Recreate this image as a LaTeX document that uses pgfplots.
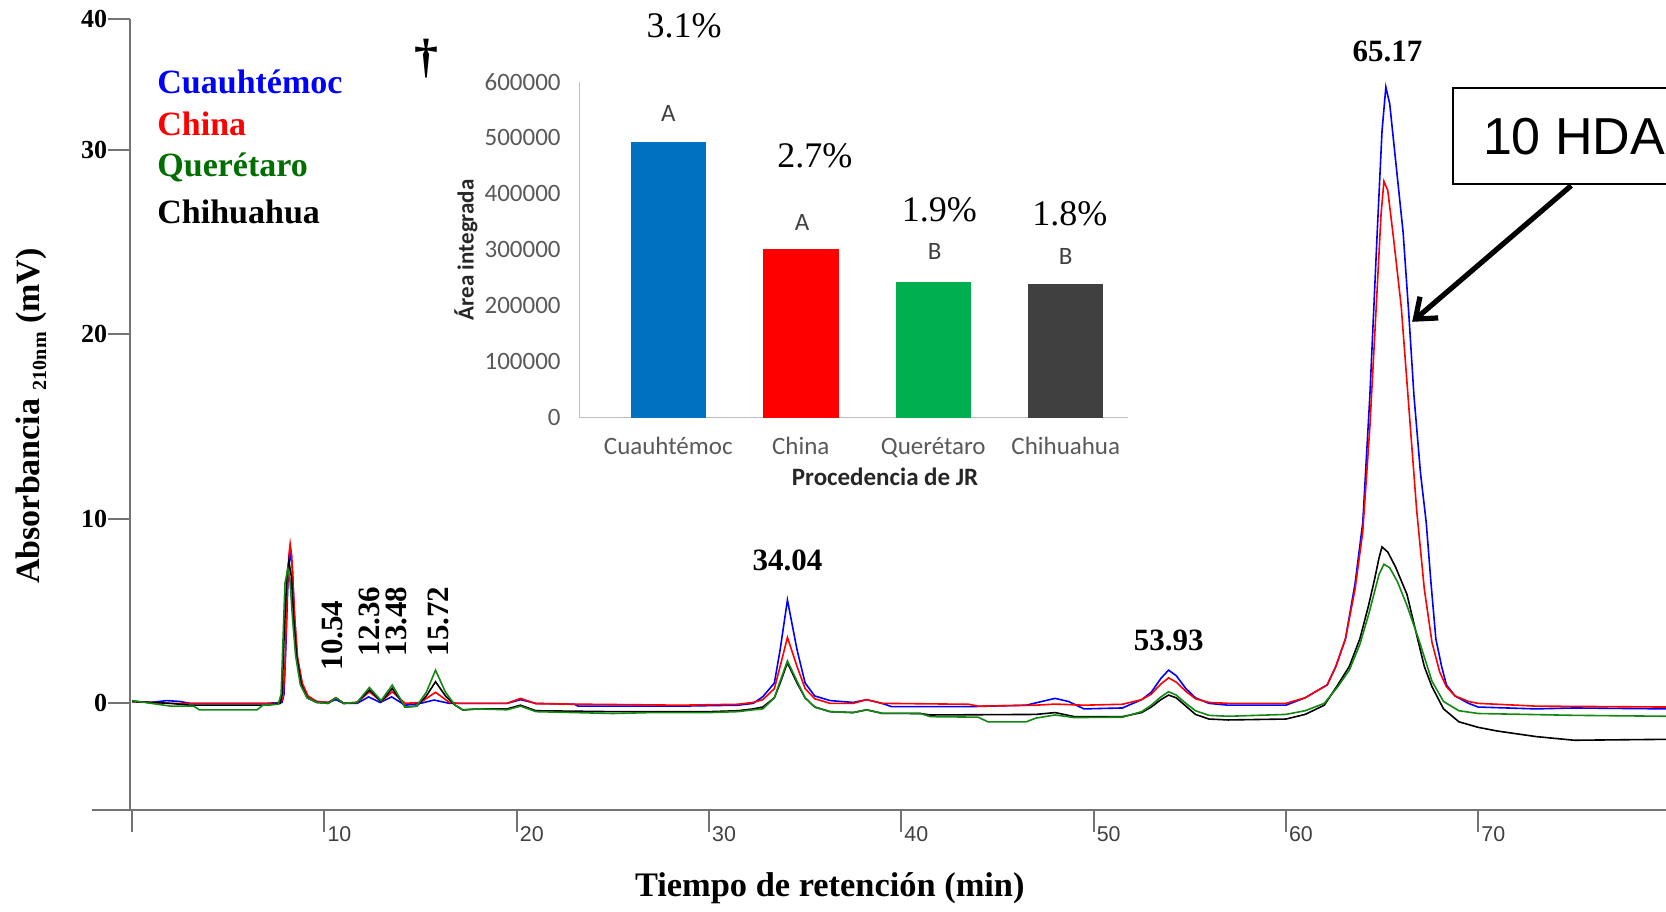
\documentclass[border=0pt]{standalone}
\usepackage{pgfplots}
\pgfplotsset{compat=1.18}
\usepackage{fontspec}
\setmainfont{Liberation Serif}
\newfontfamily\carlito{Carlito}
\newfontfamily\arialf{Liberation Sans}
\usetikzlibrary{arrows.meta}
\definecolor{cblue}{RGB}{0,0,255}
\definecolor{cred}{RGB}{255,0,0}
\definecolor{cgreen}{RGB}{20,135,20}
\definecolor{lgreen}{RGB}{0,110,0}
\definecolor{bblue}{HTML}{0070C0}
\definecolor{bred}{HTML}{FF0000}
\definecolor{bgreen}{HTML}{00B050}
\definecolor{bgray}{HTML}{404040}
\definecolor{tgray}{HTML}{595959}
\begin{document}
\begin{tikzpicture}
\useasboundingbox (0,0) rectangle (833pt,455.5pt);
\begin{axis}[
  at={(64.8pt,50.5pt)}, anchor=south west, scale only axis,
  width=768.2pt, height=395.5pt,
  xmin=-0.13, xmax=79.77, ymin=-5.78, ymax=37.09,
  axis lines*=left,
  axis line style={draw=black!55, line width=1pt},
  tick style={draw=black!55, line width=1pt},
  tick align=outside, major tick length=11pt,
  xtick={0,10,...,70}, xticklabels={,10,20,30,40,50,60,70},
  ytick={0,10,20,30,37.09}, yticklabels={0,10,20,30,40},
  xticklabel style={font=\arialf\fontsize{10.7}{12}\selectfont, text=black!75, anchor=north west, inner sep=0pt, xshift=1.4pt, yshift=3pt},
  yticklabel style={font=\fontsize{13}{15}\selectfont\bfseries, anchor=east, inner sep=0pt},
  clip=false,
]
\draw[black!55, line width=1pt] (rel axis cs:0,0) -- ([xshift=-19pt]rel axis cs:0,0);
% Cuauhtemoc (blue)
\addplot[cblue, line width=0.8pt] table {
0 0.1
1 0.05
1.8 0.15
2.5 0.1
3 0.0
7.0 0.0
7.8 0.05
7.9 0.5
8.0 3.2
8.1 6.5
8.22 8.2
8.32 7.6
8.45 4.6
8.6 2.4
8.85 1.0
9.15 0.35
9.6 0.1
10.2 0.05
10.6 0.2
11.0 0.0
11.7 0.0
12.3 0.35
12.9 0.05
13.5 0.35
14.2 -0.1
15.0 0.0
15.7 0.18
16.5 0.0
19.5 0.0
20.2 0.2
21.0 0.0
23.0 -0.05
23.2 -0.15
28.5 -0.15
31.5 -0.1
32.3 0.0
32.8 0.36
33.4 1.1
33.7 2.9
34.08 5.6
34.58 2.9
35.0 1.1
35.5 0.4
36.3 0.15
37.5 0.05
38.2 0.2
39 0.0
39.5 -0.18
43.5 -0.18
46.5 -0.1
47.3 0.1
48.0 0.27
48.7 0.1
49.5 -0.3
51.5 -0.25
52.5 0.2
53.0 0.6
53.5 1.35
53.9 1.8
54.3 1.5
54.8 0.8
55.3 0.3
56 0.0
57 -0.1
60 -0.1
61 0.3
62.15 1.0
62.6 2.0
63.1 3.5
63.6 6.5
64.0 9.8
64.37 16.7
64.75 25.5
65.0 31.0
65.2 33.4
65.4 32.5
65.7 29.5
66.1 25.5
66.4 21
66.66 16.7
67.0 12.5
67.3 9.8
67.55 6.5
67.8 3.5
68.1 2.0
68.35 1.0
68.8 0.4
69.5 0.0
70 -0.2
73 -0.3
75 -0.25
79.77 -0.3
};
% China (red)
\addplot[cred, line width=0.8pt] table {
0 0.1
2 0.0
7.7 0.0
7.85 0.3
7.95 2.0
8.05 5.5
8.15 8.0
8.22 8.65
8.3 8.0
8.45 4.8
8.6 2.5
8.85 1.1
9.15 0.4
9.6 0.1
10.2 0.05
10.6 0.3
11.0 0.0
11.7 0.05
12.34 0.63
12.95 0.1
13.53 0.63
14.2 0.0
15.0 0.05
15.78 0.6
16.5 0.05
17 0.0
19.5 0.0
20.2 0.27
21 -0.02
28.5 -0.1
31.5 -0.05
32.3 0.05
32.8 0.2
33.4 0.8
33.7 2.0
34.08 3.57
34.58 2.0
35.0 0.8
35.5 0.25
36.3 0.0
37.5 0.0
38.2 0.2
39 0.0
43.5 -0.05
44 -0.15
47 -0.1
48 -0.04
49.5 -0.1
51.5 -0.05
52.5 0.2
53 0.5
53.5 1.05
53.9 1.38
54.3 1.15
54.8 0.65
55.3 0.25
56 0.05
57 0.0
60 0.0
61 0.3
62.15 1.0
62.6 2.0
63.1 3.5
63.6 6.2
64.0 9.3
64.37 15
64.7 21.5
64.95 26.5
65.1 28.3
65.3 27.8
65.6 25.2
66.0 21.5
66.4 16.0
66.8 10.5
67.2 6.2
67.6 3.3
68.0 1.7
68.35 0.9
68.8 0.4
69.5 0.1
70 0.0
73 -0.15
79.77 -0.2
};
% Chihuahua (black)
\addplot[black, line width=0.8pt] table {
0 0.1
2 0.0
3 -0.1
7.0 -0.1
7.7 0.0
7.8 0.5
7.9 3.5
8.05 7.0
8.15 7.7
8.28 6.9
8.4 4.6
8.55 2.6
8.8 1.0
9.1 0.3
9.6 0.05
10.2 0.0
10.6 0.3
11.0 0.0
11.7 0.05
12.34 0.72
12.95 0.1
13.53 0.81
14.2 -0.2
14.8 -0.15
15.3 0.4
15.78 1.17
16.3 0.4
16.8 -0.1
17.2 -0.36
18 -0.3
19.5 -0.3
20.2 -0.1
21 -0.4
25 -0.45
30 -0.45
31.5 -0.4
32.3 -0.3
32.8 -0.2
33.4 0.3
33.7 1.1
34.08 2.2
34.58 1.1
35.0 0.3
35.5 -0.2
36.3 -0.45
37.5 -0.5
38.2 -0.35
39 -0.54
41 -0.55
41.5 -0.63
47 -0.6
48 -0.5
49 -0.72
51.5 -0.72
52.5 -0.5
53 -0.2
53.5 0.2
53.9 0.45
54.3 0.3
54.8 -0.15
55.3 -0.6
56 -0.85
57 -0.9
60 -0.85
61 -0.6
62 -0.1
62.7 1.0
63.3 2.0
63.85 3.5
64.3 5.3
64.6 6.66
64.85 7.9
65.0 8.48
65.3 8.2
65.7 7.4
66.3 5.9
66.85 3.5
67.2 2.0
67.6 0.9
68.2 -0.3
69 -1.0
70 -1.3
71 -1.5
73 -1.8
75 -2.0
79.77 -1.95
};
% Queretaro (green)
\addplot[cgreen, line width=0.8pt] table {
0 0.15
1 0.0
2 -0.15
3.2 -0.15
3.5 -0.35
6.5 -0.35
6.8 -0.1
7.6 -0.05
7.75 0.5
7.85 3.5
7.95 6.5
8.1 7.3
8.2 6.8
8.35 4.5
8.5 2.6
8.75 1.0
9.1 0.3
9.6 0.05
10.2 0.0
10.6 0.3
11.0 0.0
11.7 0.05
12.34 0.86
12.95 0.15
13.53 0.99
14.2 -0.2
14.8 -0.15
15.3 0.6
15.78 1.8
16.3 0.6
16.8 -0.1
17.2 -0.35
18 -0.3
19.5 -0.35
20.2 -0.15
21 -0.45
23 -0.5
25 -0.55
27 -0.5
30 -0.5
31.5 -0.45
32.3 -0.35
32.8 -0.3
33.4 0.3
33.7 1.2
34.08 2.3
34.58 1.2
35.0 0.3
35.5 -0.2
36.3 -0.45
37.5 -0.5
38.2 -0.35
39 -0.54
41 -0.55
41.5 -0.72
44 -0.75
44.5 -1.0
46.5 -1.0
47 -0.8
48 -0.63
49 -0.77
51.5 -0.75
52.5 -0.45
53 -0.1
53.5 0.35
53.9 0.63
54.3 0.45
54.8 0.0
55.3 -0.4
56 -0.65
57 -0.7
60 -0.6
61 -0.4
62 0.0
62.7 0.9
63.3 1.8
63.85 3.2
64.3 4.8
64.6 6.0
64.85 7.0
65.1 7.54
65.4 7.35
65.8 6.6
66.3 5.3
66.9 3.5
67.6 1.2
68.2 0.1
69 -0.4
70 -0.55
75 -0.65
79.77 -0.7
};
\end{axis}
% inset bar chart
\begin{axis}[
  at={(289.7pt,246.7pt)}, anchor=south west, scale only axis,
  width=274.4pt, height=167.9pt,
  xmin=-0.671, xmax=3.471, ymin=0, ymax=600000,
  axis lines*=left,
  axis line style={draw=black!25, line width=0.8pt},
  major tick length=0pt,
  scaled y ticks=false,
  xtick={0,1,2,3}, xticklabels={Cuauhtémoc,China,Querétaro,Chihuahua},
  ytick={0,100000,200000,300000,400000,500000,600000},
  yticklabels={0,100000,200000,300000,400000,500000,600000},
  xticklabel style={font=\carlito\fontsize{12.5}{14}\selectfont, text=tgray, anchor=base, inner sep=0pt, yshift=-18.3pt},
  yticklabel style={font=\carlito\fontsize{12.5}{14}\selectfont, text=tgray, anchor=east, inner sep=0pt, xshift=-9.2pt},
  xlabel={Procedencia de JR},
  ylabel={Área integrada},
  xlabel style={font=\carlito\bfseries\fontsize{12.5}{14}\selectfont, text=black!85, at={(axis description cs:0.557,0)}, anchor=base, yshift=-34pt},
  ylabel style={font=\carlito\bfseries\fontsize{11.5}{13}\selectfont, text=black!85},
  clip=false,
]
\addplot[ybar, bar shift=0pt, bar width=37.7pt, fill=bblue, draw=none] coordinates {(0,492000)};
\addplot[ybar, bar shift=0pt, bar width=37.7pt, fill=bred, draw=none] coordinates {(1,301500)};
\addplot[ybar, bar shift=0pt, bar width=37.7pt, fill=bgreen, draw=none] coordinates {(2,242000)};
\addplot[ybar, bar shift=0pt, bar width=37.7pt, fill=bgray, draw=none] coordinates {(3,238000)};
\node[font=\carlito\fontsize{12.5}{14}\selectfont, text=bgray] at (axis cs:0,543000) {A};
\node[font=\carlito\fontsize{12.5}{14}\selectfont, text=bgray] at (axis cs:1.01,349300) {A};
\node[font=\carlito\fontsize{12.5}{14}\selectfont, text=bgray] at (axis cs:2.01,296200) {B};
\node[font=\carlito\fontsize{12.5}{14}\selectfont, text=bgray] at (axis cs:3,288700) {B};
\node[font=\fontsize{18}{20}\selectfont] at (axis cs:0.12,700600) {3.1\%};
\node[font=\fontsize{18}{20}\selectfont] at (axis cs:1.107,467000) {2.7\%};
\node[font=\fontsize{18}{20}\selectfont] at (axis cs:2.045,372200) {1.9\%};
\node[font=\fontsize{18}{20}\selectfont] at (axis cs:3.03,364500) {1.8\%};
\end{axis}
% legend texts
\node[anchor=base west, inner sep=0pt, font=\fontsize{17}{19}\selectfont\bfseries, text=cblue] at (78.5pt,408.8pt) {Cuauhtémoc};
\node[anchor=base west, inner sep=0pt, font=\fontsize{17}{19}\selectfont\bfseries, text=cred] at (78.5pt,387.6pt) {China};
\node[anchor=base west, inner sep=0pt, font=\fontsize{17}{19}\selectfont\bfseries, text=lgreen] at (78.5pt,367.4pt) {Querétaro};
\node[anchor=base west, inner sep=0pt, font=\fontsize{17}{19}\selectfont\bfseries, text=black] at (78.5pt,343.5pt) {Chihuahua};
\node[font=\fontsize{24}{26}\selectfont\bfseries] at (213pt,426.3pt) {†};
% peak labels
\node[font=\fontsize{15.5}{17}\selectfont\bfseries] at (693.8pt,430pt) {65.17};
\node[font=\fontsize{15.5}{17}\selectfont\bfseries] at (393.7pt,175.5pt) {34.04};
\node[font=\fontsize{15.5}{17}\selectfont\bfseries] at (584.4pt,135.2pt) {53.93};
\node[rotate=90, font=\fontsize{15.5}{17}\selectfont\bfseries] at (166.1pt,137.7pt) {10.54};
\node[rotate=90, font=\fontsize{15.5}{17}\selectfont\bfseries] at (184.7pt,144.7pt) {12.36};
\node[rotate=90, font=\fontsize{15.5}{17}\selectfont\bfseries] at (198.4pt,144.7pt) {13.48};
\node[rotate=90, font=\fontsize{15.5}{17}\selectfont\bfseries] at (219.4pt,144.7pt) {15.72};
% axis titles
\node[font=\fontsize{17.2}{19}\selectfont\bfseries] at (414.9pt,11.4pt) {Tiempo de retención (min)};
\node[rotate=90, font=\fontsize{17}{19}\selectfont\bfseries] at (15.9pt,247.5pt) {Absorbancia \raisebox{-0.4ex}{\fontsize{10}{12}\selectfont 210nm} (mV)};
% 10 HDA box and arrow
\draw[line width=1pt, fill=white] (726.3pt,363.6pt) rectangle (860pt,411.4pt);
\node[anchor=west, font=\arialf\fontsize{26}{28}\selectfont] at (738pt,387pt) {10 HDA};
\draw[line width=2.6pt, -{Straight Barb[length=9pt,width=14pt]}] (785.6pt,362.7pt) -- (706.1pt,294.6pt);
\end{tikzpicture}
\end{document}
